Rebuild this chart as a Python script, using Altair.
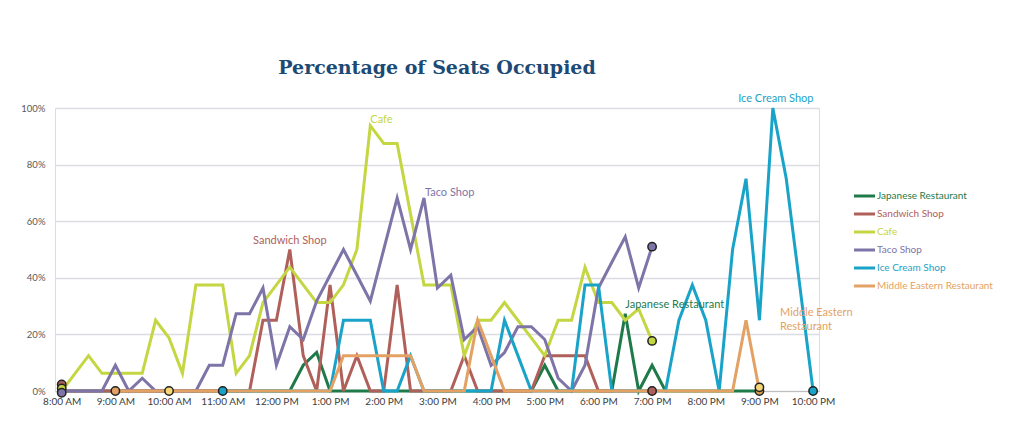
import altair as alt
import pandas as pd

# ---------------- data ----------------
TIME_START = 8.0      # 8:00 AM
STEP = 0.25           # 15-minute readings
N_READINGS = 57       # 8:00 AM .. 10:00 PM
hours = [TIME_START + STEP * k for k in range(N_READINGS)]

series_names = [
    "Japanese Restaurant",
    "Sandwich Shop",
    "Cafe",
    "Taco Shop",
    "Ice Cream Shop",
    "Middle Eastern Restaurant",
]

japanese = [
    0, 0, 0, 0, 0, 0, 0, 0, 0, 0,
    0, 0, 0, 0, 0, 0, 0, 0, 9.1, 13.6,
    0, 0, 0, 0, 0, 0, 0, 0, 0, 0,
    0, 0, 0, 0, 0, 0, 9.1, 0, 0, 0,
    0, 0, 27.3, 0, 9.1, 0, 0, 0, 0, 0,
    0, 0, 0, None, None, None, None,
]
sandwich = [
    0, 0, 0, 0, 0, 0, 0, 0, 0, 0,
    0, 0, 0, 0, 0, 25, 25, 50, 12.5, 0,
    37.5, 0, 12.5, 0, 0, 37.5, 0, 0, 0, 0,
    12.5, 0, 0, 0, 0, 0, 12.5, 12.5, 12.5, 12.5,
    0, 0, 0, 0, 0, None, None, None, None, None,
    None, None, None, None, None, None, None,
]
cafe = [
    0, 6.25, 12.5, 6.25, 6.25, 6.25, 6.25, 25, 18.75, 6.25,
    37.5, 37.5, 37.5, 6.25, 12.5, 31.25, 37.5, 43.75, 37.5, 31.25,
    31.25, 37.5, 50, 93.75, 87.5, 87.5, 62.5, 37.5, 37.5, 37.5,
    12.5, 25, 25, 31.25, 25, 18.75, 12.5, 25, 25, 43.75,
    31.25, 31.25, 25, 29, 17.7, None, None, None, None, None,
    None, None, None, None, None, None, None,
]
taco = [
    0, 0, 0, 0, 9.1, 0, 4.5, 0, 0, 0,
    0, 9.1, 9.1, 27.3, 27.3, 36.4, 9.1, 22.7, 18.2, 31.8,
    40.9, 50, 40.9, 31.8, 50, 68.2, 50, 68.2, 36.4, 40.9,
    18.2, 22.7, 9.1, 13.6, 22.7, 22.7, 18.2, 4.5, 0, 9.1,
    36.4, 45.5, 54.5, 36.4, 51, None, None, None, None, None,
    None, None, None, None, None, None, None,
]
ice_cream = [
    None, None, None, None, None, None, None, None, None, None,
    None, None, 0, 0, 0, 0, 0, 0, 0, 0,
    0, 25, 25, 25, 0, 0, 12.5, 0, 0, 0,
    0, 0, 0, 25, 12.5, 0, 0, 0, 0, 37.5,
    37.5, 0, 0, 0, 0, 0, 25, 37.5, 25, 0,
    50, 75, 25, 100, 75, 37.5, 0,
]
middle_eastern = [
    None, None, None, None, 0, 0, 0, 0, 0, 0,
    0, 0, 0, 0, 0, 0, 0, 0, 0, 0,
    0, 12.5, 12.5, 12.5, 12.5, 12.5, 12.5, 0, 0, 0,
    0, 25, 12.5, 0, 0, 0, 0, 0, 0, 0,
    0, 0, 0, 0, 0, 0, 0, 0, 0, 0,
    0, 25, 0, None, None, None, None,
]
series_values = [japanese, sandwich, cafe, taco, ice_cream, middle_eastern]

# start / end markers
marker_hours = [8, 8, 8, 9, 10, 11, 19, 19, 19, 21, 21, 22]
marker_values = [2.3, 0.9, -0.6, 0, 0, 0, 51, 17.7, 0, 0, 1.3, 0]
marker_keys = ["Sandwich Shop", "Cafe", "Taco Shop", "Middle Eastern Restaurant",
               "Highlight", "Ice Cream Shop", "Taco Shop", "Cafe", "Sandwich Shop",
               "Tan", "Highlight", "Ice Cream Shop"]

# direct labels on the lines
label_texts = ["Sandwich Shop", "Cafe", "Taco Shop", "Japanese Restaurant",
               "Ice Cream Shop", "Middle Eastern\nRestaurant"]
label_series = ["Sandwich Shop", "Cafe", "Taco Shop", "Japanese Restaurant",
                "Ice Cream Shop", "Middle Eastern Restaurant"]
label_hours = [12.25, 13.75, 14.75, 18.5, 21.25, 20.75]
label_values = [50, 93.75, 68.2, 27.3, 100, 25]

tick_hours = list(range(8, 23))
y_ticks = [0, 0.2, 0.4, 0.6, 0.8, 1.0]

# ---------------- style ----------------
series_colors = ["#1f7a4a", "#b0605a", "#c4d642", "#7e74a8", "#1aa3c8", "#e3a263"]
color_of = dict(zip(series_names, series_colors))
marker_palette = dict(color_of)
marker_palette["Highlight"] = "#f7d774"
marker_palette["Tan"] = "#d8a24f"

label_style = {
    "Sandwich Shop": dict(align="center", dx=0, dy=-9),
    "Cafe": dict(align="left", dx=0, dy=-6),
    "Taco Shop": dict(align="left", dx=1, dy=-5),
    "Japanese Restaurant": dict(align="left", dx=0, dy=-9),
    "Ice Cream Shop": dict(align="center", dx=3, dy=-9),
    "Middle Eastern Restaurant": dict(align="left", dx=34, dy=-7),
}

FONT = "Lato"

# ---------------- frames ----------------
rows = []
for name, vals in zip(series_names, series_values):
    for h, v in zip(hours, vals):
        if v is not None:
            rows.append({"series": name, "hour": h, "value": v / 100})
df = pd.DataFrame(rows)

markers = pd.DataFrame({
    "hour": marker_hours,
    "value": [v / 100 for v in marker_values],
    "key": marker_keys,
})
labels = pd.DataFrame({
    "text": label_texts,
    "series": label_series,
    "hour": label_hours,
    "value": [v / 100 for v in label_values],
})

x_label_expr = ("(datum.value % 12 == 0 ? 12 : datum.value % 12) + ':00 ' + "
                "(datum.value < 12 ? 'AM' : 'PM')")

X = alt.X(
    "hour:Q",
    scale=alt.Scale(domain=[7.875, 22.11], nice=False, zero=False),
    axis=alt.Axis(values=tick_hours, labelExpr=x_label_expr, title=None,
                  grid=False, ticks=False, domain=True, domainColor="#bfbfbf",
                  domainWidth=1, labelPadding=5, labelFontSize=10,
                  labelColor="#404040", labelFont=FONT, labelFlush=False,
                  labelOverlap=False),
)
Y = alt.Y(
    "value:Q",
    scale=alt.Scale(domain=[0, 1], nice=False, zero=False),
    axis=alt.Axis(values=y_ticks, format=".0%", title=None, grid=True,
                  gridColor="#dcdce4", gridWidth=1.5, ticks=False, domain=False,
                  labelPadding=10, labelFontSize=9.5, labelColor="#595959",
                  labelFont=FONT),
)

layers = []
for name in series_names:
    layers.append(
        alt.Chart(df)
        .transform_filter(alt.datum.series == name)
        .mark_line(strokeWidth=3, color=color_of[name], clip=False)
        .encode(x=X, y=Y)
    )

mk_keys = list(marker_palette.keys())
layers.append(
    alt.Chart(markers)
    .mark_point(filled=True, size=70, stroke="#222222", strokeWidth=1.5,
                opacity=1, shape="circle")
    .encode(
        x=X, y=Y,
        fill=alt.Fill("key:N", scale=alt.Scale(domain=mk_keys,
                                               range=[marker_palette[k] for k in mk_keys]),
                      legend=None),
    )
)

for name in label_series:
    st = label_style[name]
    layers.append(
        alt.Chart(labels)
        .transform_filter(alt.datum.series == name)
        .mark_text(font=FONT, fontSize=11, color=color_of[name], baseline="middle",
                   lineBreak="\n", lineHeight=14, **st)
        .encode(x=X, y=Y, text="text:N")
    )

# legend (manual, colored labels)
LEG_X0, LEG_X1, LEG_TX, LEG_Y0, LEG_DY = 799, 820, 822, 88, 18
leg_df = pd.DataFrame({"series": series_names})
for i, name in enumerate(series_names):
    sub = alt.Chart(leg_df).transform_filter(alt.datum.series == name)
    layers.append(
        sub.mark_rule(strokeWidth=3, color=color_of[name]).encode(
            x=alt.value(LEG_X0), x2=alt.value(LEG_X1), y=alt.value(LEG_Y0 + LEG_DY * i))
    )
    layers.append(
        sub.mark_text(font=FONT, fontSize=10, color=color_of[name], align="left",
                      baseline="middle").encode(
            x=alt.value(LEG_TX), y=alt.value(LEG_Y0 + LEG_DY * i), text="series:N")
    )

chart = (
    alt.layer(*layers)
    .properties(
        width=764,
        height=283,
        padding={"left": 55, "top": 108, "right": 205, "bottom": 44},
        autosize=alt.AutoSizeParams(type="none"),
        title=alt.TitleParams(
            "Percentage of Seats Occupied",
            font="DejaVu Serif", fontSize=19, fontWeight="bold", color="#1c4a75",
            anchor="middle", frame="group", offset=0, baseline="alphabetic",
        ),
    )
    .configure_view(stroke=None)
    .configure(background="white")
)

chart.save("out.html", embed_options={"renderer": "svg", "actions": False})
